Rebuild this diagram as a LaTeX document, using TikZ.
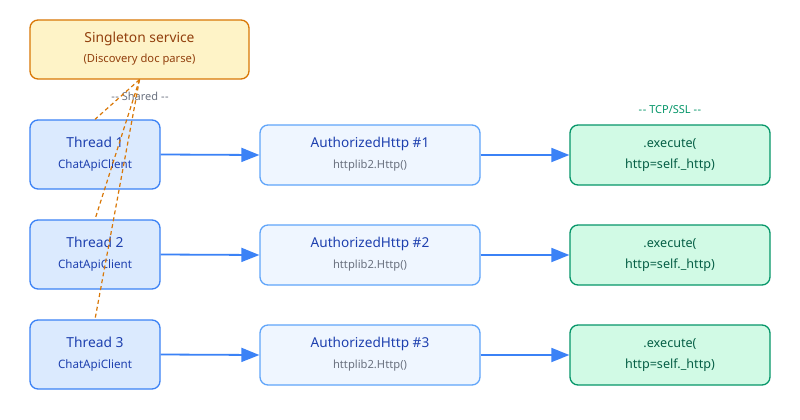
\documentclass[tikz,border=0pt]{standalone}
\usepackage{fontspec}
\setmainfont{Noto Sans}
\usetikzlibrary{arrows.meta}
\definecolor{sgfill}{HTML}{FEF3C7}
\definecolor{sgdraw}{HTML}{D97706}
\definecolor{sgtext}{HTML}{92400E}
\definecolor{thfill}{HTML}{DBEAFE}
\definecolor{thdraw}{HTML}{3B82F6}
\definecolor{thtext}{HTML}{1E40AF}
\definecolor{htfill}{HTML}{EFF6FF}
\definecolor{htdraw}{HTML}{60A5FA}
\definecolor{subgray}{HTML}{6B7280}
\definecolor{exfill}{HTML}{D1FAE5}
\definecolor{exdraw}{HTML}{059669}
\definecolor{extext}{HTML}{065F46}
\newcommand{\twolines}[5]{{\fontsize{#1}{16}\selectfont\begin{tabular}{@{}c@{}}#2\\[#5]{\fontsize{#3}{13}\selectfont #4}\end{tabular}}}
\newcommand{\dd}{{-}\kern0.6pt{-}}
\begin{document}
\begin{tikzpicture}[x=1pt,y=-1pt,
  box/.style={draw, rounded corners=8pt, line width=1.3pt, align=center, inner sep=0pt},
  single/.style={box, fill=sgfill, draw=sgdraw, text=sgtext, minimum width=219pt, minimum height=59pt},
  thread/.style={box, fill=thfill, draw=thdraw, text=thtext, minimum width=130pt, minimum height=69pt},
  authhttp/.style={box, fill=htfill, draw=htdraw, text=thtext, minimum width=220pt, minimum height=60pt},
  exec/.style={box, fill=exfill, draw=exdraw, text=extext, minimum width=200pt, minimum height=60pt},
  flow/.style={draw=thdraw, line width=1.8pt, -{Triangle[length=18pt,width=14pt]}},
  shared/.style={draw=sgdraw, line width=1.2pt, dash pattern=on 4pt off 3pt},
  note/.style={font=\fontsize{11}{13}\selectfont, inner sep=0pt}
]
\useasboundingbox (0,0) rectangle (800,420);
\fill[white] (0,0) rectangle (800,420);

\node[single] (sg) at (139.5,49.5) {\twolines{13.8}{Singleton service}{11.2}{(Discovery doc parse)}{4pt}};
\node[note, text=subgray] (sharedlbl) at (140,96) {\dd{} Shared \dd};
\node[note, text=exdraw] (tcplbl) at (670,110) {\dd{} TCP/SSL \dd};

\foreach \i/\y in {1/154.5, 2/254.5, 3/354.5}{
  \node[thread] (t\i) at (95,\y) {\twolines{13.8}{Thread \i}{11.6}{ChatApiClient}{5pt}};
}
\foreach \i/\y in {1/155, 2/255, 3/355}{
  \node[authhttp] (h\i) at (370,\y) {\twolines{13.6}{AuthorizedHttp \#\i}{11.2}{\color{subgray}httplib2.Http()}{5pt}};
  \node[exec] (e\i) at (670,\y) {\twolines{12.6}{.execute(}{12.6}{http=self.\_http)}{5pt}};
  \draw[flow] (t\i.east) -- (h\i.west);
  \draw[flow] (h\i.east) -- (e\i.west);
}
\foreach \i in {1,2,3}{
  \draw[shared] (sg.south) -- (t\i.north);
}
\end{tikzpicture}
\end{document}
